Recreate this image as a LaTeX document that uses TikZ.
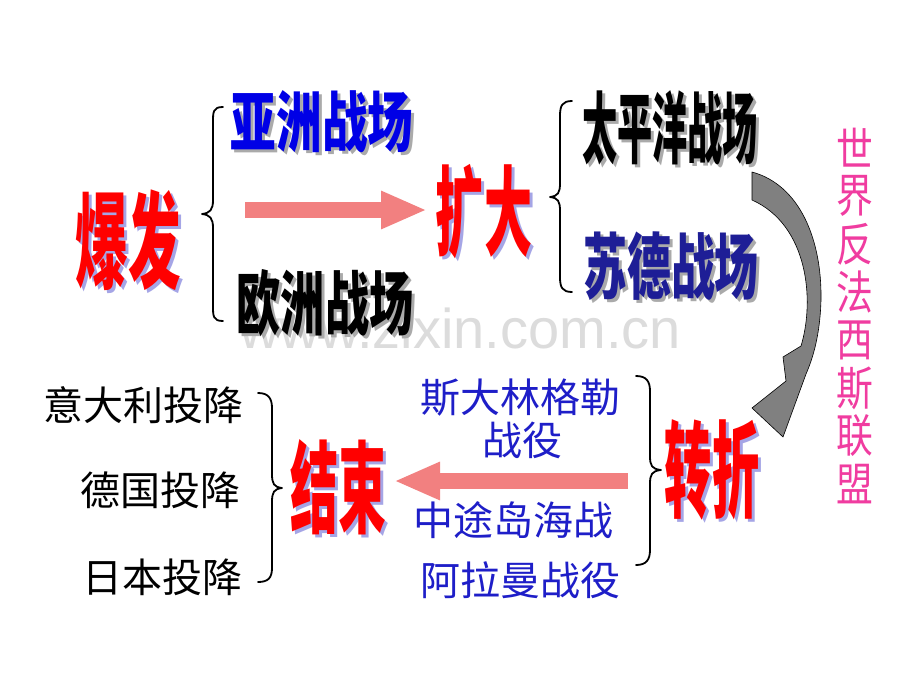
\documentclass[tikz,border=0pt]{standalone}
\usepackage{fontspec}
\usetikzlibrary{arrows.meta}
\newfontfamily\cjk{Noto Sans CJK SC}
\setmainfont{Liberation Sans}
\definecolor{bigred}{RGB}{255,0,0}
\definecolor{redshadow}{RGB}{165,165,230}
\definecolor{grayshadow}{RGB}{170,170,170}
\definecolor{txtblue}{RGB}{0,0,230}
\definecolor{navy}{RGB}{30,30,150}
\definecolor{lowblue}{RGB}{30,30,200}
\definecolor{arrowpink}{RGB}{242,128,128}
\definecolor{arrowgray}{RGB}{128,128,128}
\definecolor{allypink}{RGB}{240,60,160}
\definecolor{wmgray}{RGB}{220,220,220}
\newcommand\sq[2]{\scalebox{#1}[1]{#2}}
\tikzset{
  txt/.style={inner sep=0pt, anchor=center},
  big/.style={txt, font=\cjk\bfseries\fontsize{#1}{#1}\selectfont},
  low/.style={txt, font=\cjk\fontsize{40}{40}\selectfont},
  blockarrow/.style={draw=arrowpink, line width=16pt, -{Triangle[length=46pt,width=35pt,fill=arrowpink]}},
  bracestyle/.style={draw=black, line width=1.8pt, line cap=round, line join=round},
}
\begin{document}
\begin{tikzpicture}[x=1pt,y=-1pt]
\useasboundingbox[fill=white] (0,0) rectangle (920,690);

% watermark
\node[txt, anchor=base, text=wmgray, font=\fontsize{56}{56}\selectfont] (wm) at (460,348) {www.zixin.com.cn};

% ---- top row ----
\node[big=105, text=redshadow] (bf-s) at (131,243) {\sq{0.5}{爆发}};
\node[big=105, text=bigred] (bf) at (128,240) {\sq{0.5}{爆发}};

\draw[bracestyle] (223,107) .. controls (213,107) and (213,112) .. (213,122) -- (213,200)
  .. controls (213,210) and (210,213) .. (202,214) .. controls (210,215) and (213,218) .. (213,228)
  -- (213,306) .. controls (213,316) and (213,321) .. (223,321);

\node[big=66, text=grayshadow] (yz-s) at (325,125) {\sq{0.69}{亚洲战场}};
\node[big=66, text=txtblue] (yz) at (322,122) {\sq{0.69}{亚洲战场}};
\node[big=70, text=grayshadow] (oz-s) at (328,306) {\sq{0.63}{欧洲战场}};
\node[big=70, text=black] (oz) at (325,303) {\sq{0.63}{欧洲战场}};

\coordinate (a1s) at (245,210);
\coordinate (a1e) at (427,210);
\draw[blockarrow] (a1s) -- (a1e);

\node[big=98, text=redshadow] (kd-s) at (487,215) {\sq{0.49}{扩大}};
\node[big=98, text=bigred] (kd) at (484,212) {\sq{0.49}{扩大}};

\draw[bracestyle] (572,101) .. controls (562,101) and (560,106) .. (560,116) -- (560,183)
  .. controls (560,193) and (558,196) .. (550,197) .. controls (558,198) and (560,201) .. (560,211)
  -- (560,277) .. controls (560,287) and (562,292) .. (572,292);

\node[big=78, text=grayshadow] (tp-s) at (673,131) {\sq{0.45}{太平洋战场}};
\node[big=78, text=black] (tp) at (670,128) {\sq{0.45}{太平洋战场}};
\node[big=72, text=grayshadow] (sd-s) at (674,269) {\sq{0.61}{苏德战场}};
\node[big=72, text=navy] (sd) at (671,266) {\sq{0.61}{苏德战场}};

% curved gray arrow
\filldraw[fill=arrowgray, draw=black, line width=0.6pt, line join=round]
  (752,172) .. controls (800,185) and (822,240) .. (821,300)
  .. controls (820,335) and (813,358) .. (806,374)
  -- (783,437) -- (752,408) -- (786,381) -- (783,357) -- (801,346)
  .. controls (815,300) and (808,225) .. (752,200) -- cycle;

% vertical alliance text
\foreach \c [count=\i] in {世,界,反,法,西,斯,联,盟}
  \node[txt, text=allypink, font=\cjk\fontsize{46}{46}\selectfont] (ally\i) at (855,100+48*\i) {\sq{0.8}{\c}};

% ---- bottom row ----
\node[low, text=black] (it) at (143,405) {意大利投降};
\node[low, text=black] (de) at (160,490) {德国投降};
\node[low, text=black] (jp) at (162,577) {日本投降};

\draw[bracestyle] (258,393) .. controls (268,393) and (272,398) .. (272,408) -- (272,474)
  .. controls (272,484) and (274,487) .. (282,488) .. controls (274,489) and (272,492) .. (272,502)
  -- (272,568) .. controls (272,578) and (268,582) .. (258,582);

\node[big=100, text=redshadow] (js-s) at (341,490) {\sq{0.48}{结束}};
\node[big=100, text=bigred] (js) at (338,487) {\sq{0.48}{结束}};

\coordinate (a2s) at (628,481);
\coordinate (a2e) at (394,481);
\draw[blockarrow] (a2s) -- (a2e);

\node[low, text=lowblue] (sl) at (520,398) {斯大林格勒};
\node[low, text=lowblue] (sl2) at (522,440) {战役};
\node[low, text=lowblue] (mw) at (513,520) {中途岛海战};
\node[low, text=lowblue] (al) at (520,580) {阿拉曼战役};

\draw[bracestyle] (636,376) .. controls (646,376) and (650,381) .. (650,391) -- (650,456)
  .. controls (650,466) and (652,469) .. (661,470) .. controls (652,471) and (650,474) .. (650,484)
  -- (650,550) .. controls (650,560) and (646,565) .. (636,565);

\node[big=105, text=redshadow] (zz-s) at (715,473) {\sq{0.45}{转折}};
\node[big=105, text=bigred] (zz) at (712,470) {\sq{0.45}{转折}};
\end{tikzpicture}
\end{document}
